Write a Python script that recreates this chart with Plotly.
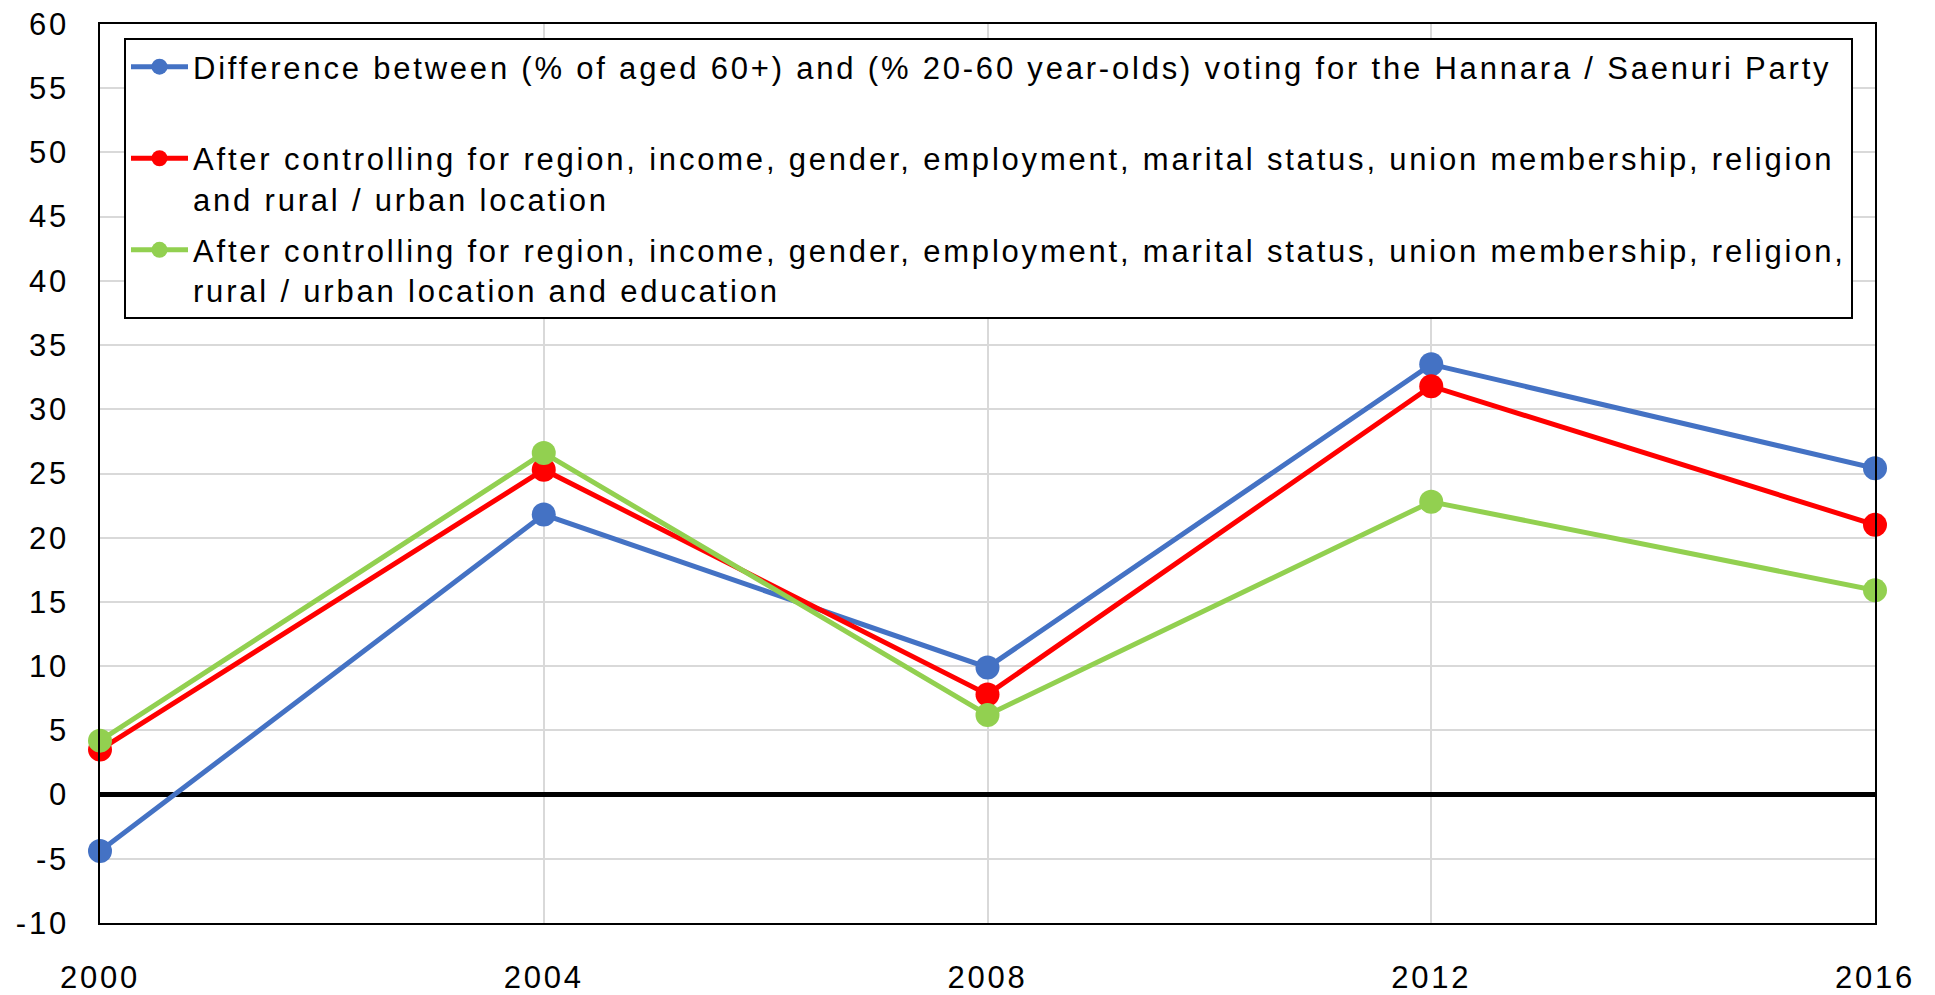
import plotly.graph_objects as go

years = [2000, 2004, 2008, 2012, 2016]
diff_raw = [-4.4, 21.8, 9.9, 33.5, 25.4]
ctrl_no_edu = [3.5, 25.3, 7.8, 31.8, 21.0]
ctrl_edu = [4.2, 26.6, 6.2, 22.8, 15.9]
y_ticks = list(range(-10, 61, 5))

names = [
    ["Difference between (% of aged 60+) and (% 20-60 year-olds) voting for the Hannara / Saenuri Party", " "],
    ["After controlling for region, income, gender, employment, marital status, union membership, religion",
     "and rural / urban location"],
    ["After controlling for region, income, gender, employment, marital status, union membership, religion,",
     "rural / urban location and education"],
]
colors = ["#4472C4", "#FF0000", "#92D050"]
series = [diff_raw, ctrl_no_edu, ctrl_edu]

LS = "letter-spacing:2.8px"


def spaced(lines):
    return "<br>".join(f'<span style="{LS}">{ln}</span>' for ln in lines)


W, H = 1935, 995
L, T, R, B = 100, 24, 60, 72
PW, PH = W - L - R, H - T - B

fig = go.Figure()
for i, (name, col, vals) in enumerate(zip(names, colors, series)):
    fig.add_trace(go.Scatter(
        x=years, y=vals, name=spaced(name), mode="lines+markers",
        legendgroup=f"g{i}",
        line=dict(color=col, width=5),
        marker=dict(color=col, size=24),
        cliponaxis=False,
    ))

fig.update_layout(
    width=W, height=H,
    margin=dict(l=L, r=R, t=T, b=B, autoexpand=False),
    paper_bgcolor="white", plot_bgcolor="white",
    font=dict(family="Liberation Sans, Arial, sans-serif", size=31, color="black"),
    showlegend=True,
    legend=dict(
        x=(124 - L) / PW, y=1 - (38 - T) / PH, xanchor="left", yanchor="top",
        bgcolor="white", bordercolor="black", borderwidth=2,
        font=dict(size=31), valign="top", tracegroupgap=8,
        itemwidth=57,
    ),
    xaxis=dict(
        range=[2000, 2016], tickvals=years,
        ticktext=[f'<span style="{LS}">{y}</span>' for y in years],
        showgrid=True, gridcolor="#d9d9d9", gridwidth=1.5,
        showline=True, linecolor="black", linewidth=1.5, mirror=True,
        ticks="", ticklabelstandoff=26, zeroline=False, automargin=False,
        ticklabeloverflow="allow",
    ),
    yaxis=dict(
        range=[-10, 60], tickvals=y_ticks,
        ticktext=[f'<span style="{LS}">{v}</span>' for v in y_ticks],
        showgrid=True, gridcolor="#d9d9d9", gridwidth=1.5,
        showline=True, linecolor="black", linewidth=1.5, mirror=True,
        ticks="", ticklabelstandoff=23, automargin=False,
        ticklabeloverflow="allow",
        zeroline=True, zerolinecolor="black", zerolinewidth=5,
    ),
)

fig.write_html(
    "out.html",
    config={"displayModeBar": False},
    post_script="document.body.style.margin='0px';",
)
